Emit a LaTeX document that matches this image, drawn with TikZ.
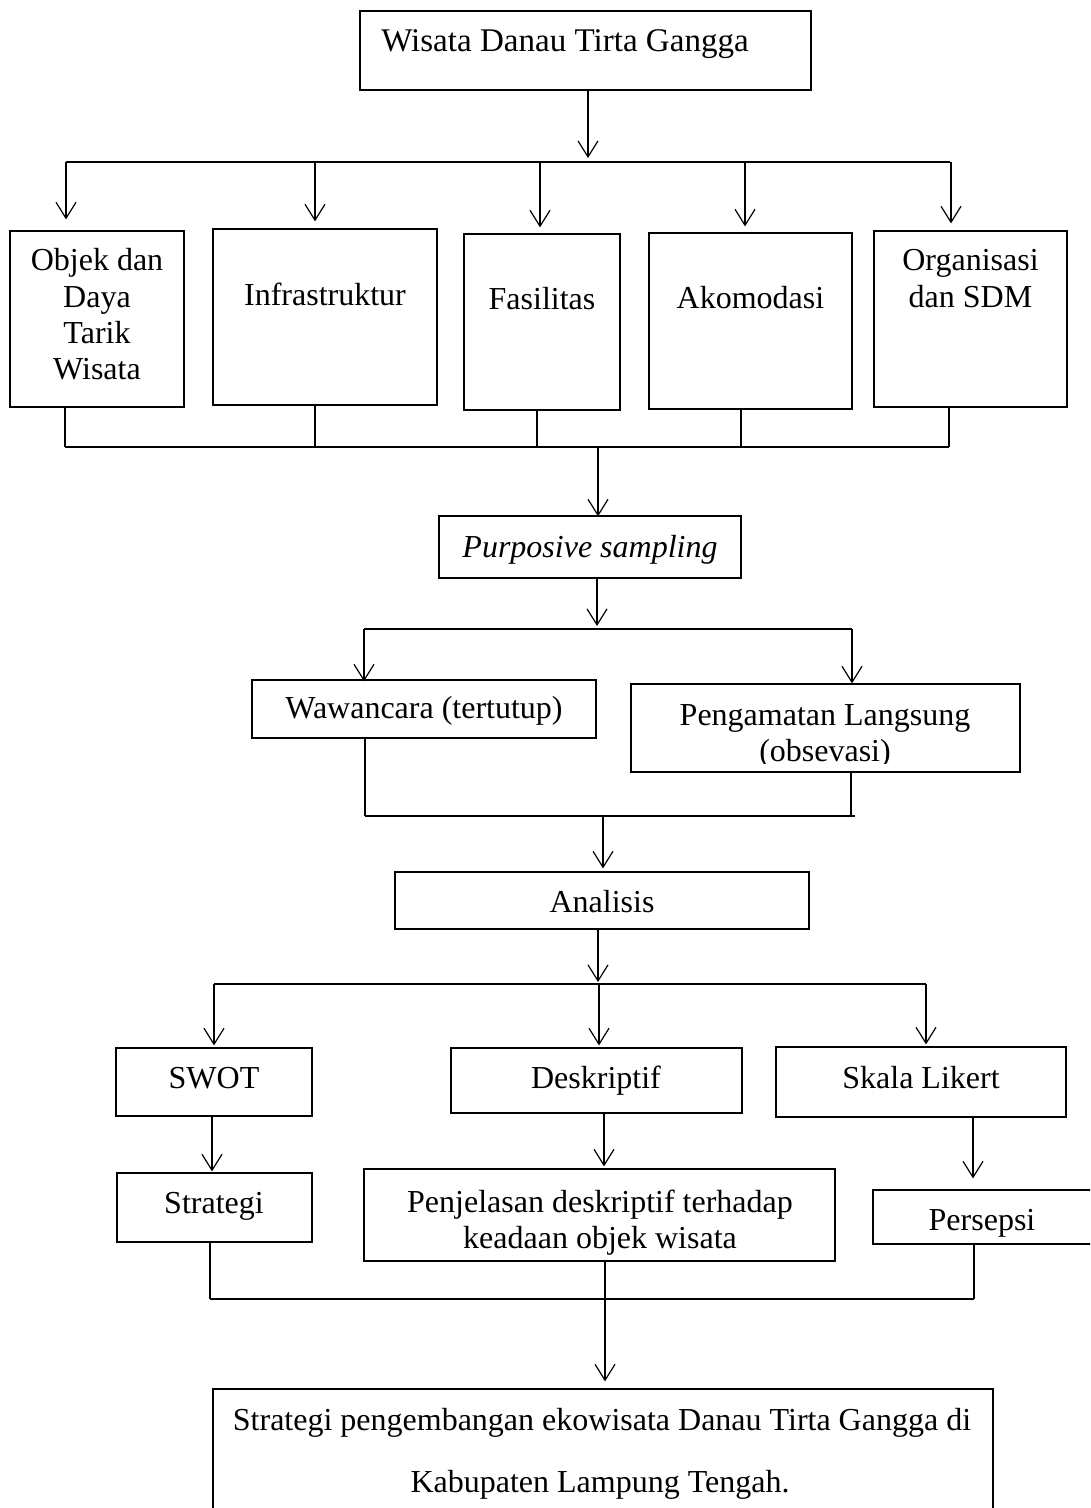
\documentclass[tikz,border=0pt]{standalone}
\usepackage{fontspec}
\setmainfont{Liberation Serif}
\usetikzlibrary{arrows.meta,calc}
\tikzset{
  box/.style={draw,line width=0.9pt,inner sep=0pt,rectangle},
  topbox/.style={draw,line width=1.8pt,inner sep=0pt,rectangle},
  txt/.style={inner sep=0pt,anchor=base,font=\fontsize{24pt}{28pt}\selectfont},
  ln/.style={line width=0.9pt},
  arr/.style={line width=0.9pt,-{Straight Barb[length=12pt,width=15pt,line width=0.9pt]}}
}
\newcommand{\bx}[6][box]{\node[#1,minimum width={(#5-#3)*0.75pt},minimum height={(#6-#4)*0.75pt}] (#2) at ({(#3+#5)/2},{(#4+#6)/2}) {};}
\begin{document}
\begin{tikzpicture}[x=0.75pt,y=-0.75pt]
\useasboundingbox (0,0) rectangle (1090,1508);
\clip (0,0) rectangle (1090,1508);
% top box
\bx[topbox]{T}{360}{11}{811}{90}
\node[txt,anchor=base west,font=\fontsize{24.8pt}{28pt}\selectfont] (Tt) at (381,52) {Wisata Danau Tirta Gangga};
% bus 1
\coordinate (h1L) at (66,162);
\coordinate (h1R) at (950,162);
\draw[ln] (h1L) -- (h1R);
\draw[arr] (T.south -| 588,0) -- (588,158);
% row 1 boxes
\bx{B1}{10}{231}{184}{407}
\bx{B2}{213}{229}{437}{405}
\bx{B3}{464}{234}{620}{410}
\bx{B4}{649}{233}{852}{409}
\bx{B5}{874}{231}{1067}{407}
\node[txt] (B1a) at (97,271) {Objek dan};
\node[txt] (B1b) at (97,307.5) {Daya};
\node[txt] (B1c) at (97,344) {Tarik};
\node[txt] (B1d) at (97,380) {Wisata};
\node[txt] (B2t) at (325,306) {Infrastruktur};
\node[txt] (B3t) at (542,310) {Fasilitas};
\node[txt] (B4t) at (750.5,309) {Akomodasi};
\node[txt] (B5a) at (970.5,271) {Organisasi};
\node[txt] (B5b) at (970.5,308) {dan SDM};
\coordinate (a1) at (66,162);
\coordinate (a2) at (315,162);
\coordinate (a3) at (540,162);
\coordinate (a4) at (745,162);
\coordinate (a5) at (951,162);
\draw[arr] (a1) -- ($(a1 |- B1.north)+(0,-11)$);
\draw[arr] (a2) -- ($(a2 |- B2.north)+(0,-7)$);
\draw[arr] (a3) -- ($(a3 |- B3.north)+(0,-6)$);
\draw[arr] (a4) -- ($(a4 |- B4.north)+(0,-6)$);
\draw[arr] (a5) -- ($(a5 |- B5.north)+(0,-7)$);
% bus 2
\coordinate (c1) at (65,447);
\coordinate (c2) at (315,447);
\coordinate (c3) at (537,447);
\coordinate (c4) at (741,447);
\coordinate (c5) at (949,447);
\draw[ln] (c1 |- B1.south) -- (c1);
\draw[ln] (c2 |- B2.south) -- (c2);
\draw[ln] (c3 |- B3.south) -- (c3);
\draw[ln] (c4 |- B4.south) -- (c4);
\draw[ln] (c5 |- B5.south) -- (c5);
\draw[ln] (c1) -- (c5);
% purposive
\bx{P}{439}{516}{741}{578}
\node[txt] (Pt) at (590,557) {\itshape Purposive sampling};
\coordinate (d1) at (598,447);
\draw[arr] (d1) -- ($(d1 |- P.north)+(0,1)$);
% bus 3
\coordinate (e1) at (364,629);
\coordinate (e2) at (852,629);
\coordinate (e0) at (597,629);
\draw[ln] (e1) -- (e2);
\draw[arr] (e0 |- P.south) -- ($(e0)+(0,-3)$);
\bx{W}{252}{680}{596}{738}
\bx{G}{631}{684}{1020}{772}
\draw[arr] (e1) -- ($(e1 |- W.north)+(0,2)$);
\draw[arr] (e2) -- (e2 |- G.north);
\node[txt] (Wt) at (424,718) {Wawancara (tertutup)};
\node[txt] (Ga) at (825,725) {Pengamatan Langsung};
\begin{scope}
\clip (631,684) rectangle (1020,763);
\node[txt] (Gb) at (825,761) {(obsevasi)};
\end{scope}
% bus 4
\coordinate (f1) at (365,816);
\coordinate (f2) at (851,816);
\coordinate (f0) at (603,816);
\draw[ln] (f1 |- W.south) -- (f1);
\draw[ln] (f2 |- G.south) -- (f2);
\draw[ln] (f1) -- ($(f2)+(4,0)$);
\bx{A}{395}{872}{809}{929}
\node[txt] (At) at (602,912) {Analisis};
\draw[arr] (f0) -- ($(f0 |- A.north)+(0,-3)$);
% bus 5
\coordinate (g1) at (214,984);
\coordinate (g2) at (599,984);
\coordinate (g3) at (926,984);
\draw[ln] (g1) -- (g3);
\draw[arr] (A.south -| 598,0) -- (598,982);
\bx{S}{116}{1048}{312}{1116}
\bx{D}{451}{1048}{742}{1113}
\bx{K}{776}{1047}{1066}{1117}
\draw[arr] (g1) -- ($(g1 |- S.north)+(0,-2)$);
\draw[arr] (g2) -- ($(g2 |- D.north)+(0,-2)$);
\draw[arr] (g3) -- ($(g3 |- K.north)+(0,-2)$);
\node[txt] (St) at (214,1088) {SWOT};
\node[txt] (Dt) at (596,1088) {Deskriptif};
\node[txt] (Kt) at (921,1088) {Skala Likert};
% row 3
\bx{R1}{117}{1173}{312}{1242}
\bx{R2}{364}{1169}{835}{1261}
\bx{R3}{873}{1190}{1110}{1244}
\coordinate (k1) at (212,1116);
\coordinate (k2) at (604,1113);
\coordinate (k3) at (973,1117);
\draw[arr] (k1) -- ($(k1 |- R1.north)+(0,-1)$);
\draw[arr] (k2) -- ($(k2 |- R2.north)+(0,-2)$);
\draw[arr] (k3) -- ($(k3 |- R3.north)+(0,-11)$);
\node[txt] (R1t) at (214,1213) {Strategi};
\node[txt] (R2a) at (600,1212) {Penjelasan deskriptif terhadap};
\node[txt] (R2b) at (600,1248) {keadaan objek wisata};
\node[txt] (R3t) at (982,1230) {Persepsi};
% bus 6
\coordinate (m1) at (210,1299);
\coordinate (m3) at (974,1299);
\coordinate (m2) at (605,1299);
\draw[ln] (m1 |- R1.south) -- (m1);
\draw[ln] (m3 |- R3.south) -- (m3);
\draw[ln] (m1) -- (m3);
\bx{F}{213}{1389}{993}{1520}
\draw[arr] (m2 |- R2.south) -- ($(m2 |- F.north)+(0,-7)$);
\node[txt] (Fa) at (602,1430) {Strategi pengembangan ekowisata Danau Tirta Gangga di};
\node[txt] (Fb) at (600,1492) {Kabupaten Lampung Tengah.};
\end{tikzpicture}
\end{document}
